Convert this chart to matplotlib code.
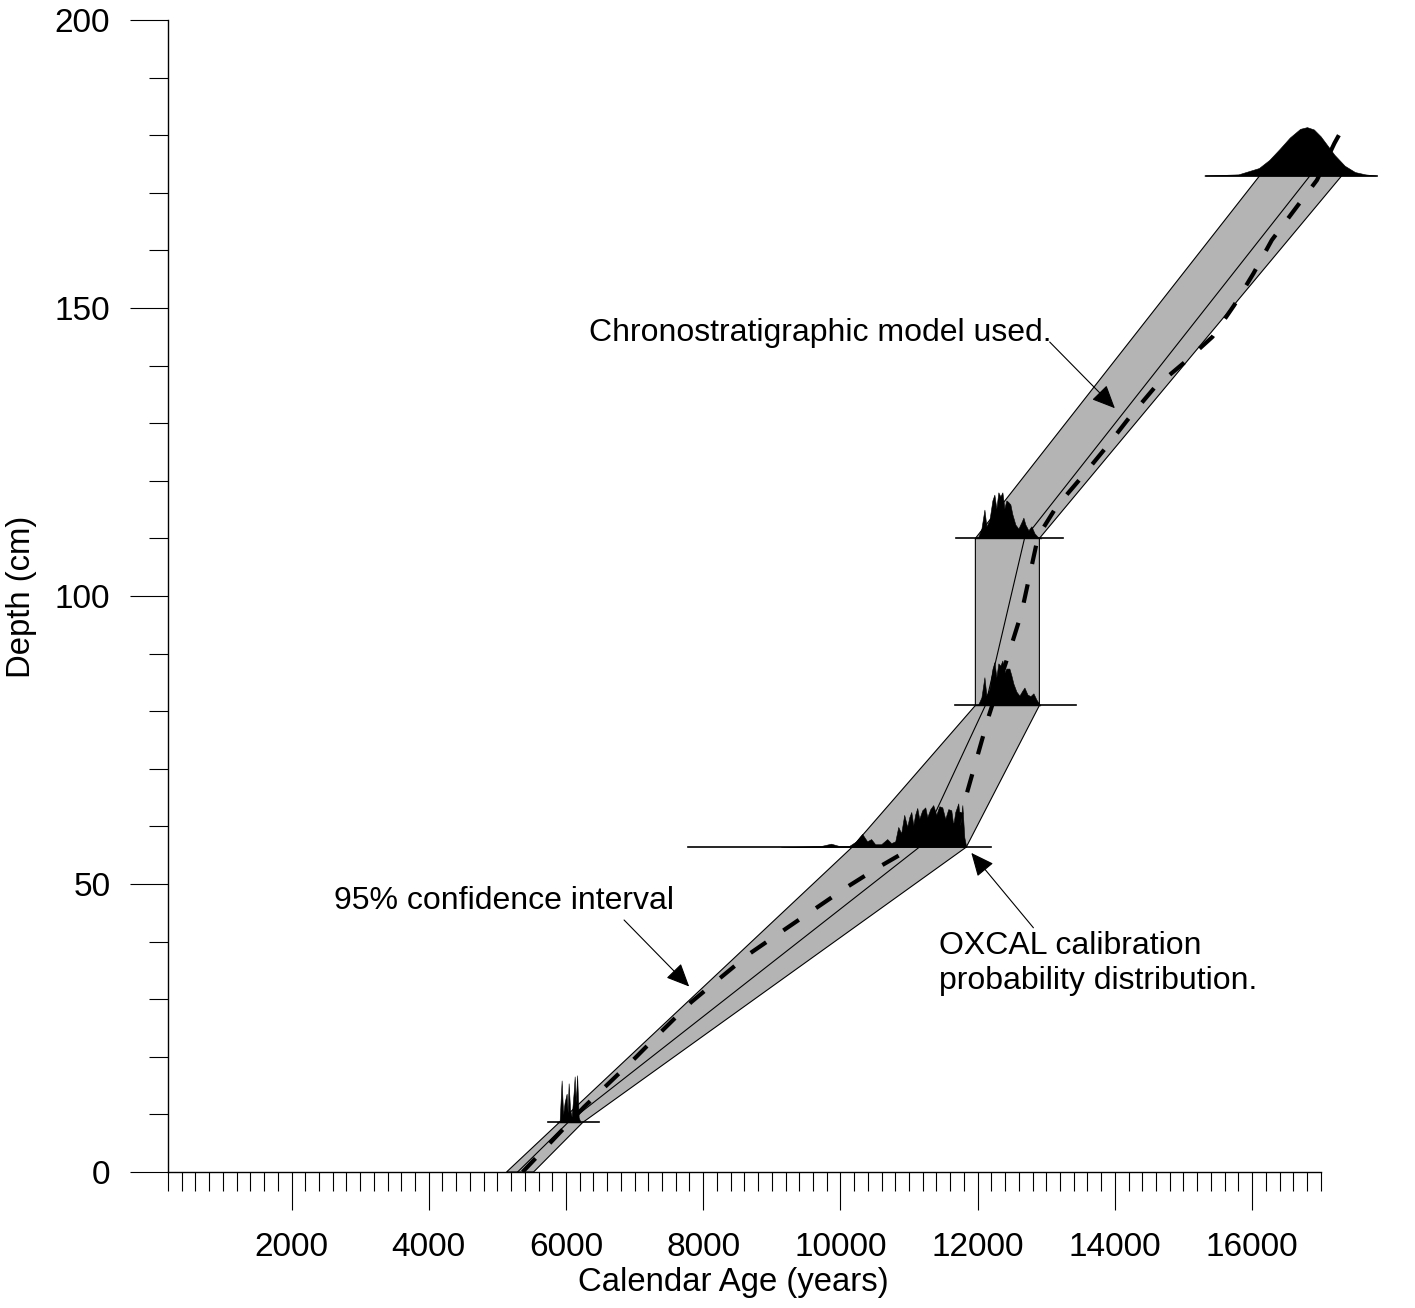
import matplotlib
matplotlib.use("Agg")
import matplotlib.pyplot as plt
from matplotlib.ticker import FixedLocator, MultipleLocator

plt.rcParams["font.family"] = ["Liberation Sans", "DejaVu Sans"]

# 1. dated samples: depth (cm) and the extent of each baseline (calendar years)
sample_depth = [8.6, 56.4, 81.0, 110.0, 173.0]
line_start = [5740, 7780, 11670, 11690, 15330]
line_end = [6480, 12200, 13430, 13250, 17820]

# OXCAL probability distributions (height drawn in cm above the baseline)
dist_9_age = [5864, 5908, 5937, 5959, 5981, 6010, 6025, 6039, 6061, 6083,
              6112, 6127, 6142, 6163, 6185, 6215]
dist_9_prob = [0, 0.3, 7.3, 1.4, 3.5, 5.0, 1.7, 6.8, 2.1, 1.0,
               5.2, 8.0, 3.5, 8.2, 0.9, 0]

dist_56_age = [9134, 9426, 9718, 9864, 9981, 10127, 10229, 10317, 10390, 10448,
               10507, 10594, 10682, 10740, 10799, 10843, 10886, 10930, 10974, 11004,
               11033, 11062, 11091, 11120, 11149, 11193, 11237, 11266, 11310, 11353,
               11397, 11441, 11485, 11528, 11572, 11616, 11645, 11674, 11718, 11747,
               11777, 11806, 11835]
dist_56_prob = [0, 0.1, 0.2, 0.6, 0.2, 0.2, 1.0, 2.3, 1.0, 1.4,
                0.5, 0.5, 1.4, 0.7, 1.0, 3.5, 2.4, 5.6, 3.5, 5.2,
                6.1, 3.8, 5.7, 6.8, 4.9, 6.4, 6.9, 5.2, 6.6, 7.3,
                5.6, 7.1, 6.9, 4.9, 6.6, 6.4, 3.8, 6.1, 7.6, 3.8,
                7.3, 1.7, 0]

dist_81_age = [11952, 12010, 12055, 12099, 12128, 12171, 12215, 12244, 12273, 12302,
               12331, 12361, 12390, 12419, 12463, 12492, 12521, 12565, 12609, 12653,
               12682, 12726, 12769, 12813, 12857, 12886, 12915]
dist_81_prob = [0, 0.2, 1.4, 4.9, 1.7, 2.8, 6.3, 7.5, 4.9, 7.3,
                6.9, 7.8, 5.7, 6.4, 6.4, 5.2, 3.8, 2.4, 1.7, 2.6,
                3.1, 1.9, 1.6, 2.1, 1.0, 0.5, 0]

dist_110_age = [11952, 12010, 12055, 12099, 12128, 12171, 12215, 12244, 12273, 12302,
                12331, 12361, 12390, 12419, 12448, 12477, 12506, 12550, 12594, 12638,
                12667, 12696, 12740, 12784, 12828, 12872, 12930]
dist_110_prob = [0, 0.3, 1.7, 5.0, 2.1, 3.1, 6.6, 7.6, 5.2, 8.0,
                 7.3, 8.0, 5.2, 6.6, 6.3, 5.9, 4.2, 2.4, 1.7, 2.8,
                 3.6, 2.4, 1.4, 2.1, 0.9, 0.3, 0]

dist_173_age = [15300, 15800, 16100, 16250, 16400, 16550, 16700, 16800, 16900, 17000,
                17100, 17200, 17350, 17500, 17650, 17800]
dist_173_prob = [0, 0.2, 1.3, 2.7, 4.6, 6.6, 8.1, 8.4, 8.0, 6.8,
                 5.2, 3.6, 1.7, 0.6, 0.2, 0]

# 95% confidence band (young and old edges)
band_young_age = [5134, 10171, 11967, 11967, 16112]
band_young_depth = [0, 56.4, 81.0, 110.0, 173.0]
band_old_age = [5528, 6244, 11834, 12900, 12900, 17309]
band_old_depth = [0, 8.6, 56.4, 81.0, 110.0, 173.0]

# thin line through the calibrated ages
median_age = [5295, 6030, 11150, 12113, 12683, 16846]
median_depth = [0, 8.6, 56.4, 81.0, 110.0, 173.0]

# chronostratigraphic model used (dashed)
model_age = [5368, 6265, 6615, 7009, 7417, 7826, 8249, 8687, 9139, 9606,
             10073, 10540, 11033, 11720, 12166, 12467, 12638, 12882, 13149, 13514,
             13879, 14219, 14580, 14999, 15423, 15740, 16020, 16288, 16628, 16945,
             17200, 17265]
model_depth = [0, 11.3, 15.3, 19.8, 24.7, 29.5, 33.7, 38.0, 41.7, 45.5,
               49.3, 52.8, 56.2, 60.6, 79.3, 90.5, 97.0, 110.4, 115.5, 120.6,
               125.9, 131.1, 136.2, 140.4, 145.0, 150.5, 156.0, 161.8, 167.2, 172.2,
               178.6, 180.0]

x_major = [2000, 4000, 6000, 8000, 10000, 12000, 14000, 16000]

# 2. figure and axes
fig = plt.figure(figsize=(14.15, 13.08), dpi=100)
ax = fig.add_axes([168 / 1415, 1 - 1172 / 1308, 1152.7 / 1415, 1152 / 1308])

# confidence band
poly_x = band_young_age + band_old_age[::-1]
poly_y = band_young_depth + band_old_depth[::-1]
ax.fill(poly_x, poly_y, facecolor="#b4b4b4", edgecolor="black", lw=0.8,
        zorder=1, clip_on=False)

ax.plot(median_age, median_depth, color="black", lw=0.8, zorder=2, clip_on=False)
ax.plot(model_age, model_depth, color="black", lw=3, ls=(0, (4.5, 5)),
        zorder=3, clip_on=False)

# distributions sitting on the sample lines
dists = [(dist_9_age, dist_9_prob), (dist_56_age, dist_56_prob),
         (dist_81_age, dist_81_prob), (dist_110_age, dist_110_prob),
         (dist_173_age, dist_173_prob)]
for depth, (ages, prob) in zip(sample_depth, dists):
    top = [depth + p for p in prob]
    ax.fill_between(ages, depth, top, facecolor="black", edgecolor="black",
                    lw=0.4, zorder=4, clip_on=False)

for depth, x0, x1 in zip(sample_depth, line_start, line_end):
    ax.plot([x0, x1], [depth, depth], color="black", lw=1.2, zorder=5, clip_on=False)

# 3. annotations
arrow = dict(arrowstyle="-|>,head_length=0.4,head_width=0.18", color="black",
             lw=0.8, mutation_scale=36, shrinkA=0, shrinkB=0)
ax.text(6330, 145.7, "Chronostratigraphic model used.", fontsize=23,
        ha="left", va="center")
ax.annotate("", xy=(14000, 132.6), xytext=(13050, 144.1), arrowprops=arrow)

ax.text(2624, 47.0, "95% confidence interval", fontsize=23,
        ha="left", va="center")
ax.annotate("", xy=(7796, 32.2), xytext=(6847, 43.75), arrowprops=arrow)

ax.text(11441, 36.2, "OXCAL calibration\nprobability distribution.", fontsize=23,
        ha="left", va="center", linespacing=1.2)
ax.annotate("", xy=(11908, 55.4), xytext=(12813, 42.4), arrowprops=arrow)

# 4. axes styling
ax.set_xlim(200, 17000)
ax.set_ylim(0, 200)
ax.xaxis.set_major_locator(FixedLocator(x_major))
ax.xaxis.set_minor_locator(MultipleLocator(200))
ax.yaxis.set_major_locator(MultipleLocator(50))
ax.yaxis.set_minor_locator(MultipleLocator(10))
ax.tick_params(which="major", length=27.5, width=0.8, labelsize=24)
ax.tick_params(which="minor", length=13.7, width=0.8)
ax.tick_params(axis="x", which="major", pad=16)
ax.tick_params(axis="y", which="major", pad=14)
for side in ["top", "right"]:
    ax.spines[side].set_visible(False)
for side in ["left", "bottom"]:
    ax.spines[side].set_linewidth(1.0)

fig.text(733 / 1415, 1 - 1283 / 1308, "Calendar Age (years)", fontsize=23.7,
         ha="center", va="center")
fig.text(22 / 1415, 1 - 597 / 1308, "Depth (cm)", fontsize=23.7,
         ha="center", va="center", rotation=90)

fig.savefig("out.png", dpi=100)
